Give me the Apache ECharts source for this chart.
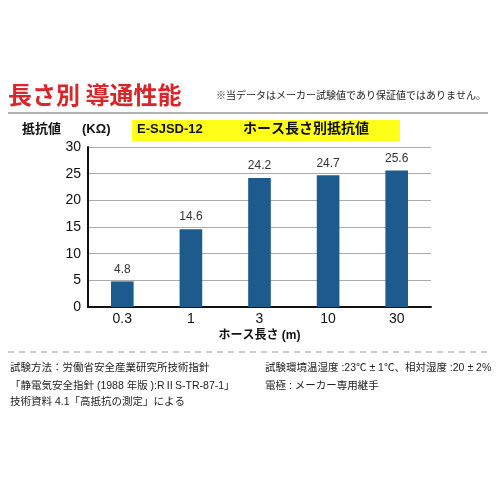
<!DOCTYPE html>
<html><head><meta charset="utf-8">
<script src="https://cdn.jsdelivr.net/npm/echarts@6/dist/echarts.min.js"></script>
<style>html,body{margin:0;padding:0;background:#fff}#c{width:500px;height:500px}</style>
</head><body><div id="c"></div>
<script>
const categories = ['0.3', '1', '3', '10', '30'];
const resistance = [4.8, 14.6, 24.2, 24.7, 25.6];
const yTicks = [0, 5, 10, 15, 20, 25, 30];

const F = '"Liberation Sans", "Noto Sans CJK JP", sans-serif';
const chart = echarts.init(document.getElementById('c'));
chart.setOption({
  backgroundColor: '#fff',
  animation: false,
  grid: { left: 88, right: 69, top: 147, bottom: 193 },
  xAxis: {
    type: 'category', data: categories,
    axisLine: { lineStyle: { color: '#111', width: 2 } },
    axisTick: { show: false },
    axisLabel: { color: '#111', fontSize: 14, fontFamily: F, margin: 5 },
    name: 'ホース長さ (m)', nameLocation: 'middle', nameGap: 23,
    nameTextStyle: { color: '#111', fontSize: 12, fontWeight: 'bold', fontFamily: F }
  },
  yAxis: {
    type: 'value', min: yTicks[0], max: yTicks[yTicks.length - 1], interval: 5,
    axisLine: { show: true, lineStyle: { color: '#111', width: 2 } },
    axisTick: { show: false },
    axisLabel: { color: '#111', fontSize: 14, fontFamily: F, margin: 7 },
    splitLine: { lineStyle: { color: '#aaa', width: 1 } }
  },
  series: [{
    type: 'bar', data: resistance, barWidth: '33%',
    itemStyle: { color: '#1d5b8e' },
    label: { show: true, position: 'top', distance: 6, color: '#333', fontSize: 12, fontFamily: F }
  }],
  graphic: [
    { type: 'text', left: 8, top: 83, style: { text: '長さ別 導通性能', fill: '#d9262b', font: 'bold 24px "Noto Sans CJK JP", sans-serif' } },
    { type: 'text', left: 216, top: 91, style: { text: '※当データはメーカー試験値であり保証値ではありません。', fill: '#222', font: '10px ' + F } },
    { type: 'line', shape: { x1: 8, y1: 113, x2: 488, y2: 113 }, style: { stroke: '#999', lineWidth: 1.5 } },
    { type: 'text', left: 22, top: 123, style: { text: '抵抗値', fill: '#111', font: 'bold 13px ' + F } },
    { type: 'text', left: 82, top: 123, style: { text: '(KΩ)', fill: '#111', font: 'bold 13px ' + F } },
    { type: 'rect', shape: { x: 132, y: 120, width: 268, height: 21 }, style: { fill: '#ffff1a' } },
    { type: 'text', left: 137, top: 123, style: { text: 'E-SJSD-12', fill: '#111', font: 'bold 13px ' + F } },
    { type: 'text', left: 243, top: 122, style: { text: 'ホース長さ別抵抗値', fill: '#111', font: 'bold 14px ' + F } },
    { type: 'line', shape: { x1: 8, y1: 352, x2: 490, y2: 352 }, style: { stroke: '#999', lineWidth: 1, lineDash: [6, 5] } },
    { type: 'text', left: 10, top: 363, style: { text: '試験方法：労働省安全産業研究所技術指針', fill: '#222', font: '10.5px ' + F } },
    { type: 'text', left: 10, top: 381, style: { text: '「静電気安全指針 (1988 年版 ):RⅡS-TR-87-1」', fill: '#222', font: '10.5px ' + F } },
    { type: 'text', left: 10, top: 397, style: { text: '技術資料 4.1「高抵抗の測定」による', fill: '#222', font: '10.5px ' + F } },
    { type: 'text', left: 265, top: 363, style: { text: '試験環境温湿度 :23℃ ± 1℃、相対湿度 :20 ± 2%', fill: '#222', font: '10.5px ' + F } },
    { type: 'text', left: 265, top: 381, style: { text: '電極 : メーカー専用継手', fill: '#222', font: '10.5px ' + F } }
  ]
});
</script></body></html>
